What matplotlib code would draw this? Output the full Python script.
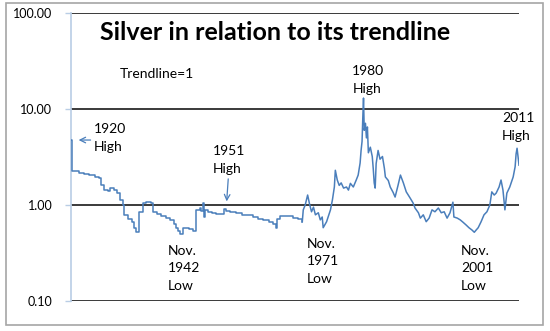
import matplotlib
matplotlib.use('Agg')
import matplotlib.pyplot as plt
from matplotlib.patches import Rectangle
from matplotlib.ticker import FixedLocator, NullLocator

plt.rcParams['font.family'] = ['Lato', 'DejaVu Sans']

# silver price relative to its trendline
# before 1967 the price moved in steps
early_years = [1919.9, 1920.05, 1921.5, 1922.5, 1923.6, 1924.8, 1925.6, 1926.0, 1926.5, 1927.5,
               1927.9, 1928.6, 1929.3, 1929.9, 1930.5, 1930.8, 1931.5, 1932.3, 1932.8, 1933.1,
               1933.8, 1934.7, 1935.3, 1936.2, 1936.6, 1937.5, 1938.3, 1939.3, 1940.1, 1941.0,
               1941.5, 1941.8, 1942.3, 1942.8, 1944.0, 1945.0, 1945.6, 1946.3, 1946.6, 1947.0,
               1947.2, 1947.4, 1948.0, 1948.8, 1949.6, 1950.6, 1951.3, 1951.8, 1952.6, 1953.8,
               1955.0, 1956.0, 1957.2, 1958.2, 1959.4, 1960.5, 1961.3, 1961.9, 1962.1, 1962.8,
               1964.2, 1965.5, 1966.6, 1967.4]
early_ratio = [4.75, 2.25, 2.18, 2.08, 2.04, 1.98, 1.92, 1.62, 1.45, 1.40,
               1.52, 1.45, 1.33, 1.13, 1.0, 0.78, 0.72, 0.66, 0.58, 0.52,
               0.85, 1.05, 1.08, 1.04, 0.85, 0.80, 0.77, 0.73, 0.70, 0.64,
               0.58, 0.53, 0.50, 0.58, 0.56, 0.54, 0.89, 0.92, 0.87, 1.05,
               0.75, 0.88, 0.85, 0.83, 0.81, 0.80, 0.91, 0.87, 0.84, 0.82,
               0.79, 0.78, 0.75, 0.72, 0.70, 0.67, 0.63, 0.58, 0.72, 0.77,
               0.76, 0.74, 0.72, 0.67]

late_years = [1967.4, 1967.6, 1968.0, 1968.5, 1968.9, 1969.3, 1969.7, 1970.1, 1970.7, 1971.1,
              1971.5, 1971.7, 1972.4, 1973.2, 1973.6, 1974.0, 1974.2, 1974.6, 1975.0, 1975.4,
              1975.9, 1976.5, 1976.9, 1977.3, 1977.9, 1978.5, 1978.9, 1979.3, 1979.5, 1979.7,
              1979.85, 1980.0, 1980.15, 1980.4, 1980.6, 1980.8, 1981.0, 1981.4, 1981.8, 1982.0,
              1982.2, 1982.4, 1982.6, 1983.0, 1983.4, 1983.9, 1984.3, 1984.5, 1985.1, 1985.5,
              1986.1, 1986.5, 1987.1, 1987.6, 1988.2, 1988.8, 1989.6, 1990.2, 1990.6, 1991.3,
              1991.7, 1992.3, 1992.9, 1993.5, 1994.1, 1994.7, 1995.4, 1996.0, 1996.6, 1997.2,
              1997.8, 1998.4, 1998.6, 1999.3, 1999.9, 2000.5, 2001.1, 2001.7, 2002.3, 2002.8,
              2003.2, 2003.6, 2004.2, 2004.8, 2005.4, 2006.0, 2006.4, 2006.9, 2007.3, 2007.9,
              2008.3, 2008.7, 2009.1, 2009.5, 2010.1, 2010.8, 2011.2, 2011.4, 2011.6, 2011.8,
              2012.0]
late_ratio = [0.67, 0.89, 1.0, 1.27, 1.02, 0.85, 0.95, 0.79, 0.83, 0.70,
              0.75, 0.58, 0.67, 0.89, 1.13, 1.54, 2.3, 1.82, 1.6, 1.70,
              1.5, 1.54, 1.43, 1.68, 1.54, 1.82, 2.05, 2.74, 3.7, 4.6,
              8.0, 13.0, 6.0, 7.1, 5.0, 6.5, 3.5, 4.0, 3.2, 2.4,
              1.7, 1.5, 2.7, 3.7, 3.0, 3.2, 2.4, 1.96, 1.8, 1.54,
              1.35, 1.21, 1.6, 2.05, 1.7, 1.37, 1.18, 1.05, 0.93, 0.83,
              0.73, 0.79, 0.67, 0.73, 0.89, 0.85, 0.93, 0.83, 0.85, 0.73,
              0.83, 1.07, 0.75, 0.73, 0.70, 0.66, 0.62, 0.58, 0.55, 0.52,
              0.55, 0.58, 0.67, 0.79, 0.85, 1.0, 1.37, 1.27, 1.33, 1.54,
              1.82, 1.43, 0.89, 1.33, 1.54, 1.96, 2.5, 3.4, 3.9, 3.2,
              2.6]

ytick_vals = [0.1, 1, 10, 100]
ytick_labels = ['0.10', '1.00', '10.00', '100.00']

# (text, year, value) for the notes on the chart
notes = [('1920\nHigh', 1924.5, 4.98),
         ('1951\nHigh', 1949.0, 2.94),
         ('1980\nHigh', 1977.7, 20.0),
         ('2011\nHigh', 2008.5, 6.5),
         ('Nov.\n1942\nLow', 1939.7, 0.22),
         ('Nov.\n1971\nLow', 1968.3, 0.26),
         ('Nov.\n2001\nLow', 2000.1, 0.22)]

line_blue = '#4A7EBB'
axis_blue = '#B9CDE5'

fig = plt.figure(figsize=(5.5, 3.31), dpi=100)
ax = fig.add_axes([71 / 550, 1 - 301 / 331, 448 / 550, 288 / 331])

ax.set_yscale('log')
ax.set_ylim(0.1, 100)
ax.set_xlim(1919.8, 2012.0)

for v in ytick_vals:
    ax.axhline(v, color='#3a3a3a', lw=1.4, zorder=1)

ax.plot(early_years, early_ratio, color=line_blue, lw=1.1, drawstyle='steps-post', zorder=3)
ax.plot(late_years, late_ratio, color=line_blue, lw=1.1, zorder=3)

ax.yaxis.set_major_locator(FixedLocator(ytick_vals))
ax.yaxis.set_minor_locator(NullLocator())
ax.set_yticklabels(ytick_labels)
ax.tick_params(axis='y', length=4.5, width=1, color=axis_blue, pad=9, labelsize=9)
ax.set_xticks([])
for s in ['top', 'right', 'bottom']:
    ax.spines[s].set_visible(False)
ax.spines['left'].set_color(axis_blue)
ax.spines['left'].set_linewidth(1.2)
ax.patch.set_visible(False)

for txt, x, y in notes:
    ax.text(x, y, txt, fontsize=10, ha='left', va='center', linespacing=1.55)

ax.text(1937.5, 23.2, 'Trendline=1', fontsize=10, ha='center', va='center')

ax.annotate('', xy=(1920.8, 4.75), xytext=(1924.4, 4.75),
            arrowprops=dict(arrowstyle='->', color=line_blue, lw=0.9))
ax.annotate('', xy=(1951.8, 1.02), xytext=(1952.2, 2.0),
            arrowprops=dict(arrowstyle='->', color=line_blue, lw=0.9))

fig.text(275 / 550, 1 - 33 / 331, 'Silver in relation to its trendline',
         fontsize=18, fontweight='bold', ha='center', va='center')

fig.patches.append(Rectangle((6 / 550, 1 - 325 / 331), 537 / 550, 322 / 331,
                             transform=fig.transFigure, fill=False,
                             edgecolor='#A6A6A6', lw=1.2))

fig.savefig('out.png', dpi=100)
